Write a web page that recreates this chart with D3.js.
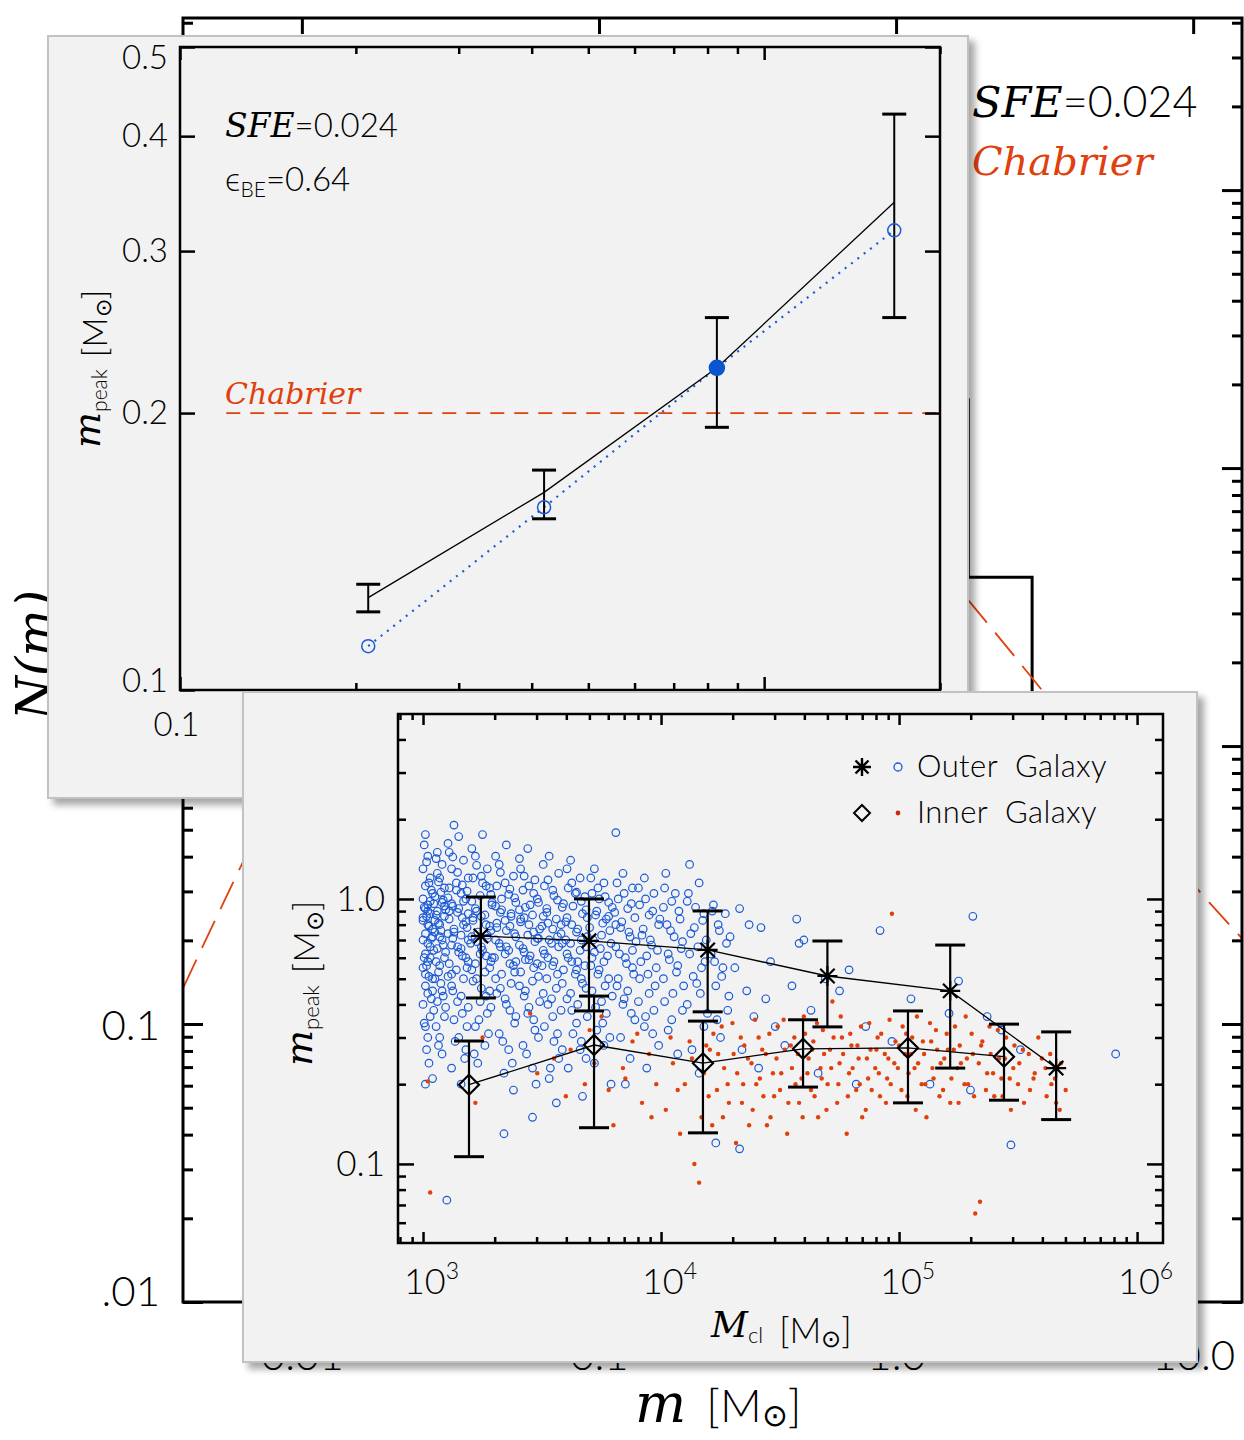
<!DOCTYPE html>
<html>
<head>
<meta charset="utf-8">
<script src="https://cdn.jsdelivr.net/npm/d3@7"></script>
<style>
body { margin: 0; background: #fff; }
svg { display: block; }
.it { font-family: "DejaVu Serif", serif; font-style: italic; }
.lt { font-weight: 300; }
</style>
</head>
<body>
<script>
// ---------- background: N(m) ----------
var bgHistEdges = [0.054, 0.089, 0.146, 0.24, 0.394, 0.648, 1.065, 1.75, 2.87, 4.72, 7.76];
var bgHistCounts = [0.5, 2, 6, 14, 25, 28, 17.6, 4.05, 1.0, 0.3];
var chabM = [0.004, 0.0065, 0.012, 0.03, 0.08, 0.2, 0.5, 1.0, 1.75, 3.3, 10.5, 14.8];
var chabN = [0.136, 0.405, 1.5, 5, 10, 12, 10, 6.8, 3.35, 1.46, 0.30, 0.2];
var bgXTicks = [0.01, 0.1, 1, 10];
var bgXLabels = ['0.01', '0.1', '1.0', '10.0'];
var bgYTicks = [0.01, 0.1, 1, 10, 100];
var bgYLabels = ['.01', '0.1', '', '', ''];   // upper labels lie under the insets

// ---------- top inset: m_peak vs m ----------
var topMass = [0.21, 0.42, 0.83, 1.67];
var topPeak = [0.126, 0.164, 0.224, 0.339];
var topErrLo = [0.1216, 0.1535, 0.193, 0.254];
var topErrHi = [0.1303, 0.1734, 0.254, 0.4227];
var topModel = [0.1116, 0.158, 0.224, 0.316];
var topModelFilled = [false, false, true, false];
var topYTicks = [0.1, 0.2, 0.3, 0.4, 0.5];
var topYLabels = ['0.1', '0.2', '0.3', '0.4', '0.5'];
var topXTicks = [0.1, 1];
var topXLabels = ['0.1', '1'];
var chabPeak = 0.2, chabFrom = 0.12;

// ---------- bottom inset: m_peak vs M_cl ----------
var outerBinM = [1750, 4980, 15700, 50000, 164000, 457000];
var outerBinPeak = [0.725, 0.695, 0.642, 0.512, 0.45, 0.23];
var outerBinLo = [0.423, 0.378, 0.375, 0.329, 0.23, 0.147];
var outerBinHi = [1.017, 1.0, 0.901, 0.694, 0.67, 0.315];
var innerBinM = [1560, 5230, 15000, 39500, 109000, 276000];
var innerBinPeak = [0.199, 0.281, 0.240, 0.272, 0.274, 0.254];
var innerBinLo = [0.1065, 0.137, 0.131, 0.195, 0.170, 0.174];
var innerBinHi = [0.291, 0.43, 0.346, 0.35, 0.378, 0.337];
var botXTicks = [1e3, 1e4, 1e5, 1e6];
var botXExp = ['3', '4', '5', '6'];
var botYTicks = [0.1, 1];
var botYLabels = ['0.1', '1.0'];

// individual clumps: [log10 M_cl, m_peak]
var outerClumps = [
[3.01,1.75],[3.02,1.45],[3.00,1.3],[3.03,1.2],[3.01,1.12],[3.04,1.05],[3.00,1.0],[3.02,0.95],[3.01,0.92],[3.03,0.88],[3.00,0.85],[3.02,0.8],[3.04,0.77],[3.01,0.74],[3.00,0.7],[3.03,0.66],[3.01,0.62],[3.02,0.58],[3.00,0.55],[3.04,0.5],[3.01,0.47],[3.02,0.44],[3.00,0.4],[3.03,0.36],[3.01,0.33],[3.02,0.3],[3.04,0.21],[3.01,0.2],[3.03,0.98],[3.02,0.9],[3.00,0.83],[3.04,0.72],[3.02,0.68],[3.03,0.6],[3.01,0.52],[3.04,0.45],
[3.06,1.5],[3.08,1.35],[3.07,1.2],[3.09,1.1],[3.05,1.02],[3.08,0.97],[3.06,0.9],[3.09,0.86],[3.07,0.8],[3.05,0.75],[3.08,0.7],[3.06,0.65],[3.09,0.6],[3.07,0.56],[3.05,0.5],[3.08,0.45],[3.06,0.41],[3.09,0.36],[3.07,0.3],[3.08,0.26],[3.10,0.073],[3.06,1.25],[3.09,0.94],[3.05,0.83],[3.07,0.72],
[3.13,1.9],[3.15,1.72],[3.11,1.5],[3.17,1.4],[3.12,1.3],[3.19,1.2],[3.14,1.15],[3.11,1.1],[3.16,1.05],[3.18,1.0],[3.12,0.96],[3.15,0.92],[3.19,0.88],[3.11,0.84],[3.17,0.8],[3.13,0.77],[3.16,0.73],[3.19,0.7],[3.12,0.67],[3.15,0.63],[3.18,0.6],[3.11,0.57],[3.14,0.54],[3.17,0.5],[3.12,0.47],[3.16,0.43],[3.19,0.39],[3.13,0.35],[3.15,0.3],[3.18,0.27],[3.12,0.23],[3.16,0.2],[3.14,1.08],[3.17,0.98],[3.11,0.9],[3.18,0.82],[3.13,0.75],[3.16,0.65],[3.19,0.58],[3.12,0.52],
[3.25,1.75],[3.22,1.45],[3.27,1.3],[3.21,1.2],[3.28,1.1],[3.24,1.03],[3.29,0.97],[3.22,0.92],[3.26,0.87],[3.21,0.83],[3.28,0.79],[3.23,0.75],[3.27,0.71],[3.2,0.68],[3.25,0.64],[3.29,0.6],[3.22,0.57],[3.26,0.53],[3.21,0.49],[3.28,0.45],[3.24,0.41],[3.27,0.37],[3.22,0.33],[3.26,0.28],[3.23,0.24],[3.34,0.13],[3.25,1.15],[3.29,0.95],[3.21,0.85],[3.27,0.73],[3.24,0.62],[3.28,0.55],
[3.35,1.6],[3.32,1.35],[3.38,1.22],[3.31,1.12],[3.36,1.04],[3.39,0.97],[3.33,0.91],[3.37,0.86],[3.31,0.81],[3.35,0.76],[3.39,0.72],[3.32,0.68],[3.36,0.64],[3.3,0.6],[3.38,0.56],[3.33,0.52],[3.37,0.48],[3.31,0.44],[3.35,0.4],[3.39,0.36],[3.32,0.31],[3.36,0.27],[3.34,0.22],[3.38,0.19],[3.33,1.0],[3.37,0.88],[3.31,0.78],[3.35,0.66],[3.39,0.58],
[3.44,1.55],[3.41,1.3],[3.47,1.18],[3.42,1.08],[3.48,1.0],[3.43,0.93],[3.46,0.87],[3.41,0.82],[3.49,0.77],[3.44,0.73],[3.47,0.69],[3.42,0.65],[3.45,0.61],[3.48,0.57],[3.41,0.53],[3.46,0.49],[3.43,0.45],[3.49,0.41],[3.44,0.37],[3.47,0.32],[3.42,0.28],[3.46,0.23],[3.46,0.15],[3.45,0.95],[3.41,0.84],[3.48,0.71],[3.43,0.59],
[3.53,1.45],[3.57,1.25],[3.51,1.12],[3.55,1.03],[3.59,0.96],[3.52,0.89],[3.56,0.84],[3.5,0.79],[3.58,0.74],[3.53,0.7],[3.57,0.66],[3.51,0.62],[3.55,0.58],[3.59,0.54],[3.52,0.5],[3.56,0.46],[3.54,0.42],[3.58,0.38],[3.51,0.33],[3.55,0.29],[3.57,0.25],[3.53,0.21],[3.56,0.17],[3.52,0.92],[3.58,0.8],[3.54,0.68],[3.5,0.56],
[3.62,1.4],[3.66,1.2],[3.61,1.1],[3.68,1.02],[3.63,0.94],[3.67,0.88],[3.6,0.82],[3.65,0.77],[3.69,0.72],[3.62,0.68],[3.66,0.64],[3.61,0.6],[3.68,0.56],[3.64,0.52],[3.67,0.48],[3.62,0.44],[3.65,0.4],[3.69,0.36],[3.63,0.31],[3.66,0.27],[3.61,0.23],[3.67,0.18],[3.64,1.05],[3.69,0.85],[3.6,0.7],[3.65,0.58],
[3.72,1.3],[3.76,1.15],[3.71,1.05],[3.78,0.97],[3.73,0.9],[3.77,0.84],[3.7,0.78],[3.75,0.73],[3.79,0.68],[3.72,0.63],[3.76,0.58],[3.74,0.54],[3.78,0.5],[3.71,0.45],[3.75,0.41],[3.77,0.37],[3.73,0.32],[3.76,0.28],[3.72,0.24],[3.79,0.2],[3.74,1.0],[3.78,0.86],[3.71,0.6],
[3.81,1.78],[3.84,1.25],[3.88,1.1],[3.82,1.0],[3.86,0.92],[3.89,0.85],[3.83,0.78],[3.87,0.72],[3.81,0.66],[3.85,0.6],[3.88,0.55],[3.82,0.5],[3.86,0.45],[3.84,0.4],[3.89,0.35],[3.83,0.3],[3.87,0.25],[3.85,0.2],[3.81,0.8],[3.88,0.64],
[3.93,1.2],[3.97,1.05],[3.91,0.95],[3.95,0.87],[3.99,0.8],[3.92,0.73],[3.96,0.67],[3.94,0.61],[3.98,0.55],[3.91,0.5],[3.95,0.44],[3.97,0.38],[3.93,0.33],[3.99,0.28],[3.94,0.23],
[4.02,1.25],[4.06,1.05],[4.01,0.93],[4.08,0.84],[4.04,0.76],[4.09,0.69],[4.03,0.62],[4.07,0.56],[4.01,0.5],[4.05,0.44],[4.09,0.38],[4.03,0.32],[4.07,0.26],
[4.12,1.35],[4.16,1.15],[4.11,0.98],[4.18,0.88],[4.14,0.78],[4.19,0.7],[4.12,0.62],[4.17,0.55],[4.15,0.48],[4.11,0.4],[4.18,0.33],[4.13,0.27],[4.16,0.22],
[4.22,0.95],[4.27,0.88],[4.24,0.8],[4.29,0.72],[4.21,0.62],[4.26,0.55],[4.23,0.47],[4.28,0.38],[4.25,0.3],[4.23,0.12],
[4.33,0.92],[4.37,0.8],[4.31,0.55],[4.36,0.45],[4.39,0.36],[4.34,0.27],[4.42,0.78],[4.46,0.58],[4.44,0.42],[4.48,0.33],[4.41,0.23],[4.33,0.114],
[4.57,0.84],[4.58,0.68],[4.6,0.7],[4.55,0.47],[4.63,0.38],[4.52,0.28],[4.66,0.22],[4.69,0.5],
[4.79,0.54],[4.92,0.76],[4.75,0.45],[4.86,0.33],[4.97,0.29],[4.82,0.2],
[5.31,0.86],[5.25,0.49],[5.21,0.37],[5.37,0.36],[5.13,0.2],[5.05,0.42],[5.3,0.19],
[5.43,0.32],[5.47,0.118],[5.51,0.27],[5.91,0.26],
[3.005,1.6],[3.015,1.38],[3.025,1.15],[3.035,1.08],[3.045,0.96],[3.005,0.93],[3.015,0.86],[3.025,0.79],[3.035,0.71],[3.045,0.64],[3.005,0.6],[3.015,0.56],[3.025,0.51],[3.035,0.42],[3.045,0.38],[3.005,0.34],[3.015,0.27],[3.025,0.24],
[3.055,1.42],[3.065,1.16],[3.075,1.06],[3.085,0.99],[3.095,0.91],[3.055,0.87],[3.065,0.81],[3.075,0.76],[3.085,0.67],[3.095,0.63],[3.055,0.58],[3.065,0.53],[3.075,0.48],[3.085,0.43],[3.095,0.39],[3.055,0.33],[3.065,0.28],
[3.105,1.62],[3.125,1.44],[3.145,1.26],[3.165,1.13],[3.185,1.07],[3.105,1.01],[3.125,0.94],[3.145,0.89],[3.165,0.85],[3.185,0.78],[3.105,0.74],[3.125,0.71],[3.145,0.66],[3.165,0.61],[3.185,0.55],[3.105,0.51],[3.125,0.45],[3.145,0.41],[3.165,0.37],[3.185,0.33],[3.135,0.29],[3.175,0.25],
[3.205,1.55],[3.225,1.34],[3.245,1.22],[3.265,1.12],[3.285,1.04],[3.205,0.98],[3.225,0.9],[3.245,0.86],[3.265,0.8],[3.285,0.76],[3.205,0.72],[3.225,0.69],[3.245,0.66],[3.265,0.61],[3.285,0.58],[3.205,0.54],[3.225,0.5],[3.245,0.46],[3.265,0.43],[3.285,0.39],[3.235,0.35],[3.275,0.31],[3.215,0.26],
[3.305,1.45],[3.325,1.26],[3.345,1.15],[3.365,1.09],[3.385,1.01],[3.305,0.94],[3.325,0.89],[3.345,0.83],[3.365,0.79],[3.385,0.74],[3.305,0.7],[3.325,0.66],[3.345,0.62],[3.365,0.57],[3.385,0.53],[3.305,0.5],[3.325,0.46],[3.345,0.42],[3.365,0.38],[3.385,0.34],[3.335,0.29],[3.375,0.24],
[3.405,1.42],[3.425,1.22],[3.445,1.12],[3.465,1.05],[3.485,0.97],[3.405,0.91],[3.425,0.85],[3.445,0.8],[3.465,0.75],[3.485,0.71],[3.405,0.67],[3.425,0.63],[3.445,0.59],[3.465,0.55],[3.485,0.51],[3.405,0.47],[3.425,0.43],[3.445,0.39],[3.465,0.35],[3.485,0.3],[3.435,0.26],[3.475,0.2],
[3.505,1.35],[3.525,1.18],[3.545,1.08],[3.565,0.99],[3.585,0.93],[3.505,0.86],[3.525,0.81],[3.545,0.77],[3.565,0.72],[3.585,0.68],[3.505,0.64],[3.525,0.6],[3.545,0.56],[3.565,0.52],[3.585,0.48],[3.505,0.44],[3.525,0.4],[3.545,0.36],[3.565,0.31],[3.585,0.27],[3.535,0.23],
[3.605,1.3],[3.625,1.15],[3.645,1.06],[3.665,0.98],[3.685,0.91],[3.605,0.85],[3.625,0.8],[3.645,0.75],[3.665,0.7],[3.685,0.66],[3.605,0.62],[3.625,0.58],[3.645,0.54],[3.665,0.5],[3.685,0.46],[3.605,0.42],[3.625,0.38],[3.645,0.34],[3.665,0.29],[3.685,0.25],
[3.705,1.2],[3.735,1.1],[3.765,1.02],[3.795,0.93],[3.725,0.87],[3.755,0.81],[3.785,0.76],[3.715,0.7],[3.745,0.65],[3.775,0.61],[3.705,0.56],[3.735,0.52],[3.765,0.47],[3.795,0.43],[3.725,0.39],[3.755,0.34],[3.785,0.3],
[3.815,1.15],[3.845,1.05],[3.875,0.96],[3.805,0.89],[3.835,0.82],[3.865,0.75],[3.895,0.69],[3.825,0.62],[3.855,0.57],[3.885,0.52],[3.815,0.47],[3.845,0.42],[3.875,0.37],
[3.905,1.1],[3.935,1.0],[3.965,0.9],[3.995,0.84],[3.925,0.77],[3.955,0.7],[3.985,0.64],[3.915,0.58],[3.945,0.52],[3.975,0.47],[3.905,0.41],[3.935,0.36],[3.965,0.31],
[4.015,1.1],[4.045,0.98],[4.075,0.9],[4.025,0.8],[4.055,0.72],[4.085,0.65],[4.035,0.59],[4.065,0.53],[4.095,0.47],[4.015,0.41],[4.045,0.35],
[4.115,1.05],[4.145,0.93],[4.175,0.83],[4.125,0.74],[4.155,0.66],[4.185,0.58],[4.135,0.51],[4.165,0.44],[4.195,0.37],
[4.215,0.9],[4.245,0.76],[4.275,0.68],[4.225,0.58],[4.255,0.51],[4.285,0.43],[4.235,0.35]
];
var innerClumps = [
[3.02,0.205],[3.03,0.078],[3.22,0.17],[3.25,0.3],[3.45,0.37],[3.48,0.22],[3.55,0.25],[3.6,0.18],[3.7,0.32],[3.72,0.24],[3.75,0.36],[3.78,0.19],[3.8,0.14],[3.84,0.23],[3.88,0.29],[3.92,0.17],[3.95,0.26],[3.98,0.2],
[4.02,0.16],[4.05,0.24],[4.08,0.13],[4.1,0.2],[4.12,0.29],[4.14,0.1],[4.16,0.085],[4.18,0.22],[4.2,0.18],[4.22,0.31],[4.24,0.26],[4.26,0.15],[4.28,0.2],[4.3,0.34],
[4.32,0.22],[4.34,0.17],[4.35,0.28],[4.37,0.14],[4.38,0.24],[4.4,0.2],[4.41,0.3],[4.43,0.18],[4.44,0.26],[4.46,0.15],[4.47,0.22],[4.49,0.33],[4.5,0.19],[4.52,0.27],[4.53,0.13],[4.55,0.23],[4.56,0.3],[4.58,0.17],[4.59,0.21],[4.6,0.36],
[4.62,0.25],[4.63,0.19],[4.64,0.29],[4.66,0.15],[4.67,0.23],[4.68,0.32],[4.7,0.2],[4.71,0.27],[4.72,0.41],[4.74,0.17],[4.75,0.24],[4.76,0.3],[4.78,0.13],[4.79,0.22],[4.8,0.28],[4.82,0.19],[4.83,0.25],[4.84,0.33],[4.86,0.16],[4.87,0.21],[4.88,0.27],[4.9,0.23],
[4.91,0.3],[4.92,0.18],[4.94,0.26],[4.95,0.21],[4.96,0.35],[4.97,0.88],[4.98,0.24],[5.0,0.28],[5.01,0.19],[5.03,0.31],[5.04,0.22],[5.05,0.26],[5.07,0.16],[5.08,0.24],[5.1,0.29],[5.11,0.2],[5.13,0.34],[5.14,0.23],[5.16,0.27],[5.17,0.18],[5.19,0.25],
[5.2,0.31],[5.22,0.21],[5.23,0.27],[5.25,0.17],[5.26,0.24],[5.28,0.36],[5.29,0.2],[5.31,0.26],[5.32,0.065],[5.34,0.072],[5.35,0.29],[5.37,0.22],[5.38,0.33],[5.4,0.18],[5.42,0.25],[5.43,0.21],[5.45,0.3],[5.47,0.16],[5.48,0.23],[5.5,0.2],[5.52,0.27],[5.55,0.19],[5.57,0.22],[5.6,0.25],
[5.62,0.18],[5.64,0.2],[5.66,0.17],[5.68,0.24],[5.7,0.19],
[4.205,0.27],[4.215,0.14],[4.235,0.19],[4.255,0.33],[4.265,0.23],[4.285,0.17],[4.305,0.26],[4.315,0.12],[4.335,0.3],[4.345,0.2],[4.365,0.25],[4.385,0.16],[4.395,0.35],[4.415,0.21],[4.425,0.27],[4.445,0.14],[4.455,0.31],[4.475,0.18],[4.485,0.25],[4.505,0.22],[4.515,0.35],[4.535,0.17],[4.545,0.28],[4.565,0.2],[4.575,0.26],[4.595,0.15],[4.605,0.31],[4.615,0.22],[4.635,0.27],[4.645,0.18],[4.655,0.34],[4.675,0.21],[4.685,0.26],[4.695,0.16],[4.715,0.23],[4.725,0.3],[4.745,0.2],[4.755,0.36],[4.765,0.26],[4.785,0.18],[4.795,0.31],[4.805,0.23],[4.825,0.28],[4.835,0.2],[4.845,0.15],[4.865,0.25],[4.875,0.34],[4.885,0.19],[4.905,0.27],[4.915,0.22],[4.925,0.31],[4.945,0.17],[4.955,0.25],[4.965,0.2],[4.985,0.29],[4.995,0.23],
[5.015,0.33],[5.025,0.26],[5.035,0.18],[5.055,0.3],[5.065,0.23],[5.075,0.36],[5.095,0.2],[5.105,0.26],[5.115,0.15],[5.135,0.29],[5.145,0.21],[5.155,0.32],[5.175,0.24],[5.185,0.19],[5.205,0.27],[5.215,0.17],[5.235,0.33],[5.245,0.23],[5.255,0.28],[5.275,0.2],[5.285,0.25],[5.305,0.31],[5.315,0.18],[5.335,0.24],[5.345,0.28],[5.365,0.19],[5.385,0.26],[5.395,0.22],[5.415,0.32],[5.435,0.18],[5.445,0.25],[5.465,0.21],[5.485,0.28],[5.505,0.24],[5.525,0.17],[5.545,0.26],[5.565,0.21],[5.585,0.3],[5.615,0.23],[5.635,0.26],[5.655,0.21],[5.675,0.16],
[3.62,0.27],[3.68,0.2],[3.85,0.21],[3.9,0.31],[3.96,0.15],[4.04,0.3],[4.07,0.19],[4.13,0.25],[4.17,0.15],[4.19,0.28]
];

var SANS = 'Lato, "DejaVu Sans", sans-serif';
var BLUE = '#1a5ad6', RED = '#e0400c';

var svg = d3.select('body').append('svg').attr('width', 1244).attr('height', 1440)
	.attr('font-family', SANS);
svg.append('rect').attr('width', 1244).attr('height', 1440).attr('fill', '#fff');
var defs = svg.append('defs');
defs.append('filter').attr('id', 'shadow').attr('x', '-5%').attr('y', '-5%')
	.attr('width', '115%').attr('height', '115%')
	.append('feDropShadow').attr('dx', 6).attr('dy', 6).attr('stdDeviation', 3.5)
	.attr('flood-color', '#000').attr('flood-opacity', 0.35);

function cleanAxis(g, w) {
	g.select('.domain').remove();
	g.selectAll('.tick line').attr('stroke', '#000').attr('stroke-width', w);
	g.attr('font-family', SANS).attr('class', 'lt');
	return g;
}
function minorsOf(scale) {
	return scale.ticks().filter(function(d) {
		var l = Math.log10(d);
		return Math.abs(l - Math.round(l)) > 1e-6;
	});
}
function asterisk(r) {
	var a = r * 0.72;
	return 'M' + (-r) + ',0L' + r + ',0M0,' + (-r) + 'L0,' + r +
		'M' + (-a) + ',' + (-a) + 'L' + a + ',' + a + 'M' + (-a) + ',' + a + 'L' + a + ',' + (-a);
}
function diamond(r) {
	return 'M0,' + (-r) + 'L' + r + ',0L0,' + r + 'L' + (-r) + ',0Z';
}
// "[M☉]" unit tail appended to a text element
function solarUnit(t, size, sub, dx) {
	t.append('tspan').attr('class', 'lt').attr('font-size', size).attr('dx', dx).text('[M');
	t.append('tspan').attr('class', 'lt').attr('font-size', sub).attr('dy', 4).text('⊙');
	t.append('tspan').attr('class', 'lt').attr('font-size', size).attr('dy', -4).text(']');
}

// ================= background plot =================
var bgX = d3.scaleLog().domain([0.00398, 14.6]).range([183, 1242]);
var bgY = d3.scaleLog().domain([0.01, 416]).range([1302, 18]);
var bg = svg.append('g');
defs.append('clipPath').attr('id', 'bgclip').append('rect')
	.attr('x', 183).attr('y', 18).attr('width', 1059).attr('height', 1284);
var bgBody = bg.append('g').attr('clip-path', 'url(#bgclip)');

var histPts = [[bgHistEdges[0], 0.01]];
bgHistCounts.forEach(function(c, i) {
	histPts.push([bgHistEdges[i], c]);
	histPts.push([bgHistEdges[i + 1], c]);
});
histPts.push([bgHistEdges[bgHistEdges.length - 1], 0.01]);
bgBody.append('path').attr('d', d3.line()
		.x(function(d) { return bgX(d[0]); }).y(function(d) { return bgY(d[1]); })(histPts))
	.attr('fill', 'none').attr('stroke', '#000').attr('stroke-width', 3);

bgBody.append('path').attr('d', d3.line().curve(d3.curveMonotoneX)
		.x(function(d, i) { return bgX(chabM[i]); }).y(function(d, i) { return bgY(chabN[i]); })(chabM))
	.attr('fill', 'none').attr('stroke', RED).attr('stroke-width', 1.8)
	.attr('stroke-dasharray', '30,13');

bg.append('rect').attr('x', 183).attr('y', 18).attr('width', 1059).attr('height', 1284)
	.attr('fill', 'none').attr('stroke', '#000').attr('stroke-width', 3);

var gBL = bg.append('g').attr('transform', 'translate(183,0)')
	.call(d3.axisLeft(bgY).tickValues(bgYTicks).tickSize(-20).tickPadding(23)
		.tickFormat(function(d, i) { return bgYLabels[i]; }));
cleanAxis(gBL, 3).attr('font-size', 42);
gBL.selectAll('text').attr('dy', '0.36em').attr('y', function(d) { return d === 0.01 ? -12 : 0; });
cleanAxis(bg.append('g').attr('transform', 'translate(183,0)')
	.call(d3.axisLeft(bgY).tickValues(minorsOf(bgY)).tickSize(-10).tickFormat('')), 3);
cleanAxis(bg.append('g').attr('transform', 'translate(1242,0)')
	.call(d3.axisRight(bgY).tickValues(bgYTicks).tickSize(-20).tickFormat('')), 3);
cleanAxis(bg.append('g').attr('transform', 'translate(1242,0)')
	.call(d3.axisRight(bgY).tickValues(minorsOf(bgY)).tickSize(-10).tickFormat('')), 3);
cleanAxis(bg.append('g').attr('transform', 'translate(0,18)')
	.call(d3.axisTop(bgX).tickValues(bgXTicks).tickSize(-16).tickFormat('')), 3);
var gBB = bg.append('g').attr('transform', 'translate(0,1302)')
	.call(d3.axisBottom(bgX).tickValues(bgXTicks).tickSize(-16).tickPadding(38)
		.tickFormat(function(d, i) { return bgXLabels[i]; }));
cleanAxis(gBB, 3).attr('font-size', 42);

var bgT1 = bg.append('text').attr('x', 972).attr('y', 117).attr('font-size', 43);
bgT1.append('tspan').attr('class', 'it').text('SFE');
bgT1.append('tspan').attr('class', 'lt').text('=0.024');
bg.append('text').attr('class', 'it').attr('x', 972).attr('y', 175).attr('font-size', 40)
	.attr('fill', RED).text('Chabrier');

var bgXT = bg.append('text').attr('x', 635).attr('y', 1422);
bgXT.append('tspan').attr('class', 'it').attr('font-size', 54).text('m');
solarUnit(bgXT, 46, 31, 20);
bg.append('text').attr('class', 'it').attr('transform', 'translate(52,720) rotate(-90)')
	.attr('font-size', 50).text('N(m)');

// ================= top inset =================
var topG = svg.append('g');
topG.append('rect').attr('x', 48).attr('y', 36).attr('width', 920).attr('height', 762)
	.attr('fill', '#f2f2f2').attr('stroke', '#c2c2c2').attr('stroke-width', 2)
	.attr('filter', 'url(#shadow)');
var tX = d3.scaleLog().domain([0.1, 2]).range([180, 940]);
var tY = d3.scaleLog().domain([0.1, 0.5]).range([690, 47]);

topG.append('line').attr('x1', tX(chabFrom)).attr('x2', tX(2))
	.attr('y1', tY(chabPeak)).attr('y2', tY(chabPeak))
	.attr('stroke', RED).attr('stroke-width', 1.8).attr('stroke-dasharray', '14,10');

topG.append('path').attr('d', d3.line()
		.x(function(d, i) { return tX(topMass[i]); }).y(function(d, i) { return tY(topModel[i]); })(topMass))
	.attr('fill', 'none').attr('stroke', BLUE).attr('stroke-width', 2.2)
	.attr('stroke-dasharray', '2,6');
topG.append('path').attr('d', d3.line()
		.x(function(d, i) { return tX(topMass[i]); }).y(function(d, i) { return tY(topPeak[i]); })(topMass))
	.attr('fill', 'none').attr('stroke', '#000').attr('stroke-width', 1.3);

topMass.forEach(function(m, i) {
	var x = tX(m);
	topG.append('line').attr('x1', x).attr('x2', x).attr('y1', tY(topErrLo[i])).attr('y2', tY(topErrHi[i]))
		.attr('stroke', '#000').attr('stroke-width', 2);
	[topErrLo[i], topErrHi[i]].forEach(function(v) {
		topG.append('line').attr('x1', x - 12).attr('x2', x + 12).attr('y1', tY(v)).attr('y2', tY(v))
			.attr('stroke', '#000').attr('stroke-width', 3);
	});
	topG.append('circle').attr('cx', x).attr('cy', tY(topModel[i]))
		.attr('r', topModelFilled[i] ? 7.5 : 6.5)
		.attr('fill', topModelFilled[i] ? '#0a55d0' : 'none')
		.attr('stroke', topModelFilled[i] ? '#0a55d0' : BLUE).attr('stroke-width', 1.5);
});

topG.append('rect').attr('x', 180).attr('y', 47).attr('width', 760).attr('height', 643)
	.attr('fill', 'none').attr('stroke', '#000').attr('stroke-width', 2.5);
var gTL = topG.append('g').attr('transform', 'translate(180,0)')
	.call(d3.axisLeft(tY).tickValues(topYTicks).tickSize(-15).tickPadding(12)
		.tickFormat(function(d, i) { return topYLabels[i]; }));
cleanAxis(gTL, 2.5).attr('font-size', 33);
gTL.selectAll('text').attr('y', function(d) { return d === 0.5 ? 11 : (d === 0.1 ? -9 : 0); });
cleanAxis(topG.append('g').attr('transform', 'translate(940,0)')
	.call(d3.axisRight(tY).tickValues(topYTicks).tickSize(-15).tickFormat('')), 2.5);
var gTB = topG.append('g').attr('transform', 'translate(0,690)')
	.call(d3.axisBottom(tX).tickValues(topXTicks).tickSize(-13).tickPadding(23)
		.tickFormat(function(d, i) { return topXLabels[i]; }));
cleanAxis(gTB, 2.5).attr('font-size', 33);
gTB.selectAll('text').attr('x', -4);
cleanAxis(topG.append('g').attr('transform', 'translate(0,690)')
	.call(d3.axisBottom(tX).tickValues(minorsOf(tX)).tickSize(-7).tickFormat('')), 2.5);
cleanAxis(topG.append('g').attr('transform', 'translate(0,47)')
	.call(d3.axisTop(tX).tickValues(topXTicks).tickSize(-13).tickFormat('')), 2.5);
cleanAxis(topG.append('g').attr('transform', 'translate(0,47)')
	.call(d3.axisTop(tX).tickValues(minorsOf(tX)).tickSize(-7).tickFormat('')), 2.5);

var tT1 = topG.append('text').attr('x', 225).attr('y', 137).attr('font-size', 33);
tT1.append('tspan').attr('class', 'it').text('SFE');
tT1.append('tspan').attr('class', 'lt').text('=0.024');
var tT2 = topG.append('text').attr('x', 225).attr('y', 191).attr('font-size', 33);
tT2.append('tspan').attr('class', 'lt').text('ϵ');
tT2.append('tspan').attr('class', 'lt').attr('font-size', 21).attr('dy', 6).text('BE');
tT2.append('tspan').attr('class', 'lt').attr('dy', -6).text('=0.64');
topG.append('text').attr('class', 'it').attr('x', 225).attr('y', 404).attr('font-size', 30)
	.attr('fill', RED).text('Chabrier');

var tYT = topG.append('text').attr('transform', 'translate(100,448) rotate(-90)');
tYT.append('tspan').attr('class', 'it').attr('font-size', 38).text('m');
tYT.append('tspan').attr('class', 'lt').attr('font-size', 21).attr('dy', 7).text('peak');
tYT.append('tspan').attr('dy', -7).text('');
solarUnit(tYT, 33, 22, 12);

// ================= bottom inset =================
var bot = svg.append('g');
bot.append('rect').attr('x', 243).attr('y', 692).attr('width', 954).attr('height', 670)
	.attr('fill', '#f2f2f2').attr('stroke', '#c2c2c2').attr('stroke-width', 2)
	.attr('filter', 'url(#shadow)');
var bX = d3.scaleLog().domain([785, 1.285e6]).range([398, 1163]);
var bY = d3.scaleLog().domain([0.0503, 4.99]).range([1243, 714]);

bot.selectAll('.outer').data(outerClumps).enter().append('circle')
	.attr('cx', function(d) { return bX(Math.pow(10, d[0])); })
	.attr('cy', function(d) { return bY(d[1]); })
	.attr('r', 3.8).attr('fill', 'none').attr('stroke', BLUE).attr('stroke-width', 1.2);
bot.selectAll('.inner').data(innerClumps).enter().append('circle')
	.attr('cx', function(d) { return bX(Math.pow(10, d[0])); })
	.attr('cy', function(d) { return bY(d[1]); })
	.attr('r', 2.2).attr('fill', RED);

function drawBinned(M, P, lo, hi, shape) {
	bot.append('path').attr('d', d3.line()
			.x(function(d, i) { return bX(M[i]); }).y(function(d, i) { return bY(P[i]); })(M))
		.attr('fill', 'none').attr('stroke', '#000').attr('stroke-width', 1.3);
	M.forEach(function(m, i) {
		var x = bX(m);
		bot.append('line').attr('x1', x).attr('x2', x).attr('y1', bY(lo[i])).attr('y2', bY(hi[i]))
			.attr('stroke', '#000').attr('stroke-width', 2.2);
		[lo[i], hi[i]].forEach(function(v) {
			bot.append('line').attr('x1', x - 15).attr('x2', x + 15).attr('y1', bY(v)).attr('y2', bY(v))
				.attr('stroke', '#000').attr('stroke-width', 3);
		});
		bot.append('path').attr('d', shape).attr('transform', 'translate(' + x + ',' + bY(P[i]) + ')')
			.attr('fill', 'none').attr('stroke', '#000').attr('stroke-width', 2.2);
	});
}
drawBinned(innerBinM, innerBinPeak, innerBinLo, innerBinHi, diamond(10));
drawBinned(outerBinM, outerBinPeak, outerBinLo, outerBinHi, asterisk(10));

bot.append('rect').attr('x', 398).attr('y', 714).attr('width', 765).attr('height', 529)
	.attr('fill', 'none').attr('stroke', '#000').attr('stroke-width', 2.5);
var bMinY = minorsOf(bY), bMinX = minorsOf(bX);
var gBYL = bot.append('g').attr('transform', 'translate(398,0)')
	.call(d3.axisLeft(bY).tickValues(botYTicks).tickSize(-16).tickPadding(13)
		.tickFormat(function(d, i) { return botYLabels[i]; }));
cleanAxis(gBYL, 2.5).attr('font-size', 35);
cleanAxis(bot.append('g').attr('transform', 'translate(398,0)')
	.call(d3.axisLeft(bY).tickValues(bMinY).tickSize(-8).tickFormat('')), 2.5);
cleanAxis(bot.append('g').attr('transform', 'translate(1163,0)')
	.call(d3.axisRight(bY).tickValues(botYTicks).tickSize(-16).tickFormat('')), 2.5);
cleanAxis(bot.append('g').attr('transform', 'translate(1163,0)')
	.call(d3.axisRight(bY).tickValues(bMinY).tickSize(-8).tickFormat('')), 2.5);
var gBXB = bot.append('g').attr('transform', 'translate(0,1243)')
	.call(d3.axisBottom(bX).tickValues(botXTicks).tickSize(-11).tickPadding(25).tickFormat(''));
cleanAxis(gBXB, 2.5).attr('font-size', 36);
gBXB.selectAll('.tick text').each(function(d, i) {
	var t = d3.select(this).attr('x', 8);
	t.append('tspan').text('10');
	t.append('tspan').attr('font-size', 23).attr('dy', -15).text(botXExp[i]);
});
cleanAxis(bot.append('g').attr('transform', 'translate(0,1243)')
	.call(d3.axisBottom(bX).tickValues(bMinX).tickSize(-6).tickFormat('')), 2.5);
cleanAxis(bot.append('g').attr('transform', 'translate(0,714)')
	.call(d3.axisTop(bX).tickValues(botXTicks).tickSize(-11).tickFormat('')), 2.5);
cleanAxis(bot.append('g').attr('transform', 'translate(0,714)')
	.call(d3.axisTop(bX).tickValues(bMinX).tickSize(-6).tickFormat('')), 2.5);

// legend
var leg = bot.append('g');
leg.append('path').attr('d', asterisk(9)).attr('transform', 'translate(862,767)')
	.attr('fill', 'none').attr('stroke', '#000').attr('stroke-width', 2.4);
leg.append('circle').attr('cx', 898).attr('cy', 767).attr('r', 4)
	.attr('fill', 'none').attr('stroke', BLUE).attr('stroke-width', 1.3);
leg.append('text').attr('class', 'lt').attr('x', 917).attr('y', 777).attr('font-size', 31)
	.attr('letter-spacing', 0.4).style('white-space', 'pre').text('Outer  Galaxy');
leg.append('path').attr('d', diamond(8)).attr('transform', 'translate(862,813)')
	.attr('fill', 'none').attr('stroke', '#000').attr('stroke-width', 2);
leg.append('circle').attr('cx', 898).attr('cy', 813).attr('r', 2.4).attr('fill', '#cc2a0a');
leg.append('text').attr('class', 'lt').attr('x', 917).attr('y', 823).attr('font-size', 31)
	.attr('letter-spacing', 0.4).style('white-space', 'pre').text('Inner  Galaxy');

var bXT = bot.append('text').attr('x', 711).attr('y', 1337);
bXT.append('tspan').attr('class', 'it').attr('font-size', 36).text('M');
bXT.append('tspan').attr('class', 'lt').attr('font-size', 22).attr('dy', 6).text('cl');
bXT.append('tspan').attr('dy', -6).text('');
solarUnit(bXT, 35, 24, 16);
var bYT = bot.append('text').attr('transform', 'translate(312,1066) rotate(-90)');
bYT.append('tspan').attr('class', 'it').attr('font-size', 38).text('m');
bYT.append('tspan').attr('class', 'lt').attr('font-size', 22).attr('dy', 7).text('peak');
bYT.append('tspan').attr('dy', -7).text('');
solarUnit(bYT, 35, 24, 12);
</script>
</body>
</html>
